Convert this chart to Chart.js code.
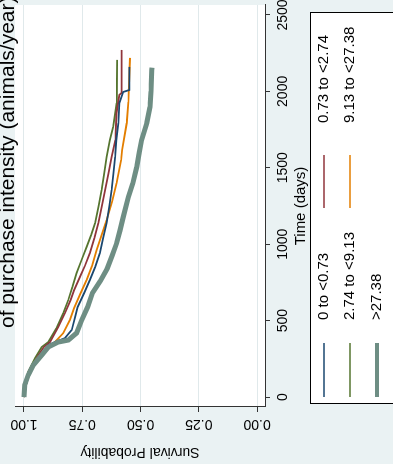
<!DOCTYPE html>
<html>
<head>
<meta charset="utf-8">
<script src="https://cdn.jsdelivr.net/npm/chart.js@4.4.1/dist/chart.umd.min.js"></script>
<style>
  html, body { margin: 0; padding: 0; }
  body { width: 393px; height: 464px; overflow: hidden; background: #eaf2f3; position: relative; }
  #wrap { position: absolute; left: 0; top: 0; width: 464px; height: 393px;
          transform-origin: 0 0; transform: translateY(464px) rotate(-90deg); }
  canvas { display: block; }
</style>
</head>
<body>
<div id="wrap"><canvas id="km" width="464" height="393"></canvas></div>
<script>
// Kaplan-Meier curves by purchase intensity (animals/year)
const groups = ['0 to <0.73', '0.73 to <2.74', '2.74 to <9.13', '9.13 to <27.38', '>27.38'];
const colors = ['#1a476f', '#90353b', '#55752f', '#e37e00', '#6e8e84'];

const days1 = [0, 60, 140, 210, 275, 340, 360, 386, 439, 524, 589, 680, 766, 850, 942, 1040, 1139, 1250, 1355, 1460, 1571, 1682, 1793, 1924, 1996, 2009, 2160];
const surv1 = [1, .995, .98, .958, .928, .896, .867, .824, .795, .781, .770, .742, .717, .695, .674, .66, .645, .634, .624, .616, .609, .604, .595, .591, .574, .548, .548];

const days2 = [0, 60, 140, 210, 270, 327, 360, 458, 550, 635, 700, 785, 860, 942, 1040, 1139, 1250, 1355, 1460, 1571, 1682, 1859, 1977, 1990, 2271];
const surv2 = [1, .994, .982, .962, .94, .915, .888, .853, .824, .80, .785, .76, .738, .717, .698, .681, .666, .652, .638, .624, .608, .603, .591, .581, .581];

const days3 = [0, 80, 164, 255, 327, 360, 452, 550, 635, 720, 812, 900, 982, 1060, 1139, 1250, 1355, 1460, 1571, 1682, 1767, 1924, 2206];
const surv3 = [1, .993, .982, .953, .924, .896, .86, .831, .81, .792, .774, .752, .731, .712, .695, .68, .667, .656, .645, .631, .617, .602, .60];

const days4 = [0, 60, 124, 180, 223, 295, 360, 419, 504, 583, 680, 766, 860, 962, 1060, 1158, 1280, 1401, 1551, 1617, 1793, 1931, 2219];
const surv4 = [1, .999, .99, .972, .953, .91, .867, .831, .803, .785, .757, .731, .708, .688, .667, .645, .622, .602, .583, .579, .559, .552, .545];

const days5 = [0, 79, 144, 209, 275, 327, 360, 373, 419, 504, 589, 681, 760, 840, 925, 1008, 1090, 1178, 1309, 1400, 1505, 1600, 1682, 1793, 1898, 2000, 2140, 2155];
const surv5 = [1, .997, .982, .96, .924, .896, .853, .81, .774, .752, .727, .706, .672, .643, .622, .602, .588, .574, .552, .533, .516, .505, .495, .473, .459, .455, .452, .451];

const timeTicks = [0, 500, 1000, 1500, 2000, 2500];
const survTicks = [0, 0.25, 0.5, 0.75, 1];
const survTickLabels = ['0.00', '0.25', '0.50', '0.75', '1.00'];

const FONT = '"Liberation Sans", Arial, Helvetica, sans-serif';
Chart.defaults.font.family = FONT;
Chart.defaults.color = '#000';

function pts(d, s) { return d.map((v, i) => ({ x: v, y: s[i] })); }
const series = [[days1, surv1], [days2, surv2], [days3, surv3], [days4, surv4], [days5, surv5]];

const plotBg = {
  id: 'plotBg',
  beforeDraw(chart) {
    const { ctx, chartArea: a } = chart;
    ctx.save();
    ctx.fillStyle = '#fff';
    ctx.fillRect(a.left, a.top, a.right - a.left, a.bottom - a.top);
    ctx.restore();
  }
};

// stata-like legend box and the (cut off) title line
const extras = {
  id: 'extras',
  afterDraw(chart) {
    const ctx = chart.ctx;
    ctx.save();
    ctx.fillStyle = '#fff';
    ctx.fillRect(60.5, 310.5, 391, 100);
    ctx.strokeStyle = '#000';
    ctx.lineWidth = 1;
    ctx.strokeRect(60.5, 310.5, 391, 100);
    ctx.font = '15px ' + FONT;
    ctx.textBaseline = 'middle';
    const rows = [324, 350, 377];
    chart.data.datasets.forEach((ds, i) => {
      const y = rows[Math.floor(i / 2)], col = i % 2;
      const x0 = col ? 256 : 67, x1 = col ? 309 : 121, tx = col ? 341 : 144;
      ctx.strokeStyle = ds.borderColor;
      ctx.lineWidth = ds.borderWidth > 3 ? 4 : 1.5;
      ctx.beginPath(); ctx.moveTo(x0, y); ctx.lineTo(x1, y); ctx.stroke();
      ctx.fillStyle = '#000';
      ctx.fillText(ds.label, tx, y);
    });
    ctx.font = '21px ' + FONT;
    ctx.textBaseline = 'alphabetic';
    ctx.fillText('of purchase intensity (animals/year)', 136, 13.5);
    ctx.restore();
  }
};

new Chart(document.getElementById('km'), {
  type: 'line',
  data: {
    datasets: series.map((s, i) => ({
      label: groups[i],
      data: pts(s[0], s[1]),
      borderColor: colors[i],
      backgroundColor: colors[i],
      borderWidth: i === 4 ? 5 : 1.8,
      order: i === 4 ? 0 : i + 1,
      pointRadius: 0,
      fill: false
    }))
  },
  options: {
    responsive: false,
    animation: false,
    devicePixelRatio: 1,
    layout: { padding: { top: 15, right: 5, bottom: 0, left: 0 } },
    plugins: { legend: { display: false }, tooltip: { enabled: false } },
    elements: { line: { tension: 0 } },
    scales: {
      x: {
        type: 'linear', min: -65, max: 2565,
        afterBuildTicks: s => { s.ticks = timeTicks.map(v => ({ value: v })); },
        afterFit: s => { s.height = 128; s.paddingLeft = 0; s.paddingRight = 0; },
        ticks: { autoSkip: false, maxRotation: 0, padding: 5, font: { size: 14 }, callback: v => String(v) },
        grid: { drawOnChartArea: false, tickLength: 5, tickColor: '#333' },
        border: { color: '#333', width: 1 },
        title: { display: true, text: 'Time (days)', font: { size: 15 }, padding: { top: 0, bottom: 83 } }
      },
      y: {
        type: 'linear', min: -0.0343, max: 1.0386,
        afterBuildTicks: s => { s.ticks = survTicks.map(v => ({ value: v })); },
        afterFit: s => { s.width = 57; s.paddingTop = 0; s.paddingBottom = 0; },
        ticks: {
          autoSkip: false, minRotation: 90, maxRotation: 90, crossAlign: 'center', padding: -2,
          font: { size: 14 }, callback: v => survTickLabels[survTicks.indexOf(v)]
        },
        grid: { color: '#e0e9eb', tickLength: 5, tickColor: '#333' },
        border: { color: '#333', width: 1 },
        title: { display: true, text: 'Survival Probability', font: { size: 14 }, padding: { top: 4, bottom: 0 } }
      }
    }
  },
  plugins: [plotBg, extras]
});
</script>
</body>
</html>
